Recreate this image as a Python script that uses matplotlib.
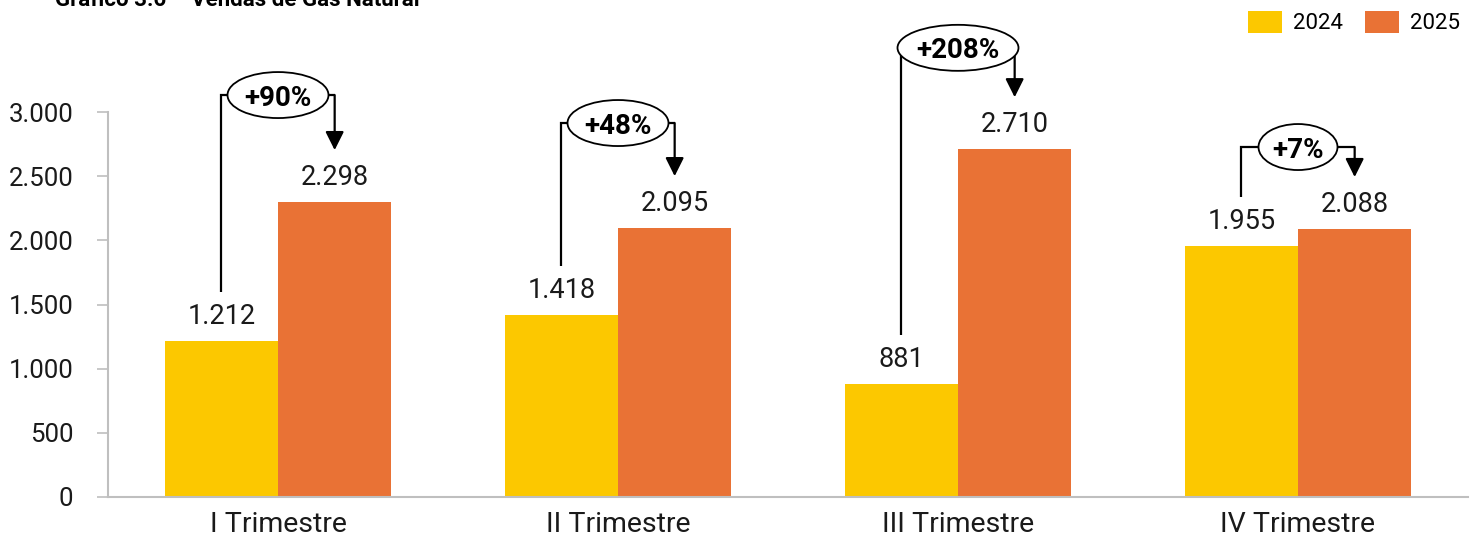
import matplotlib
matplotlib.use("Agg")
import matplotlib.pyplot as plt
import matplotlib.transforms as mtransforms
from matplotlib.patches import Ellipse, Patch
import numpy as np

# ---- data ----
categories = ["I Trimestre", "II Trimestre", "III Trimestre", "IV Trimestre"]
series_names = ["2024", "2025"]
values_2024 = [1212, 1418, 881, 1955]
values_2025 = [2298, 2095, 2710, 2088]
growth_labels = ["+90%", "+48%", "+208%", "+7%"]
yticks = [0, 500, 1000, 1500, 2000, 2500, 3000]
title = "Gráfico 3.6 – Vendas de Gás Natural"

# ---- style / layout ----
c2024 = "#FCC800"
c2025 = "#E97235"
bracket_levels = [3132, 2914, 3500, 2727]      # height of bracket line (data units)
ellipse_w_in = [1.01, 1.01, 1.21, 0.79]         # ellipse widths (inches)
ellipse_h_in = 0.46
start_gap = 385     # gap above 2024 value where bracket line starts
arrow_gap = 405     # gap above 2025 value where arrow ends

plt.rcParams["font.family"] = ["Roboto", "DejaVu Sans"]

fig = plt.figure(figsize=(14.77, 5.37), dpi=100)
ax = fig.add_axes([108/1477, 40/537, 1360/1477, 385/537])

x = np.arange(len(categories))
bw = 1/3
b1 = ax.bar(x - bw/2, values_2024, width=bw, color=c2024, label=series_names[0], zorder=2)
b2 = ax.bar(x + bw/2, values_2025, width=bw, color=c2025, label=series_names[1], zorder=2)

ax.set_xlim(-0.5, len(categories) - 0.5)
ax.set_ylim(0, 3000)
ax.set_yticks(yticks)
ax.set_yticklabels([f"{v:,}".replace(",", ".") for v in yticks], fontsize=18.5, color="#1a1a1a")
ax.set_xticks(x)
ax.set_xticklabels(categories, fontsize=20.5, color="#1a1a1a")
ax.tick_params(axis="x", length=0, pad=10)
ax.tick_params(axis="y", length=8, width=1.2, color="#BFBFBF", direction="out", pad=17)
for s in ["top", "right"]:
    ax.spines[s].set_visible(False)
for s in ["left", "bottom"]:
    ax.spines[s].set_color("#BFBFBF")
    ax.spines[s].set_linewidth(1.5)

# value labels
for bars, vals in ((b1, values_2024), (b2, values_2025)):
    for rect, v in zip(bars, vals):
        ax.annotate(f"{v:,}".replace(",", "."),
                    xy=(rect.get_x() + rect.get_width()/2, v),
                    xytext=(0, 8), textcoords="offset points",
                    ha="center", va="bottom", fontsize=19.5, color="#1a1a1a")

# brackets with growth ellipses
lw = 1.6
for i in range(len(categories)):
    lx = x[i] - bw/2
    rx = x[i] + bw/2
    lev = bracket_levels[i]
    y0 = values_2024[i] + start_gap
    y1 = values_2025[i] + arrow_gap
    ax.plot([lx, lx, rx], [y0, lev, lev], color="black", lw=lw, clip_on=False,
            solid_capstyle="butt", solid_joinstyle="miter", zorder=3)
    ax.annotate("", xy=(rx, y1), xytext=(rx, lev),
                arrowprops=dict(arrowstyle="-|>,head_length=0.8,head_width=0.4",
                                mutation_scale=14, color="black", lw=lw,
                                shrinkA=0, shrinkB=0),
                annotation_clip=False, zorder=3)
    trans = fig.dpi_scale_trans + mtransforms.ScaledTranslation(x[i], lev, ax.transData)
    ell = Ellipse((0, 0), ellipse_w_in[i], ellipse_h_in, transform=trans,
                  facecolor="white", edgecolor="black", lw=1.3, zorder=4, clip_on=False)
    ax.add_artist(ell)
    ax.text(x[i], lev, growth_labels[i], ha="center", va="center_baseline",
            fontsize=20, fontweight="bold", color="black", zorder=5, clip_on=False)

# legend
handles = [Patch(facecolor=c2024), Patch(facecolor=c2025)]
fig.legend(handles, series_names, loc="upper right",
           bbox_to_anchor=(1460/1477, 1 - 11/537), ncol=2, frameon=False,
           fontsize=16, handlelength=1.53, handleheight=1.13, handletextpad=0.5,
           columnspacing=1.0, borderpad=0, borderaxespad=0)

# title (cut off at top as in the reference)
fig.text(55/1477, 1 - 6/537, title, fontsize=16, fontweight="bold",
         va="baseline", ha="left", color="black")

fig.savefig("out.png", dpi=100)
